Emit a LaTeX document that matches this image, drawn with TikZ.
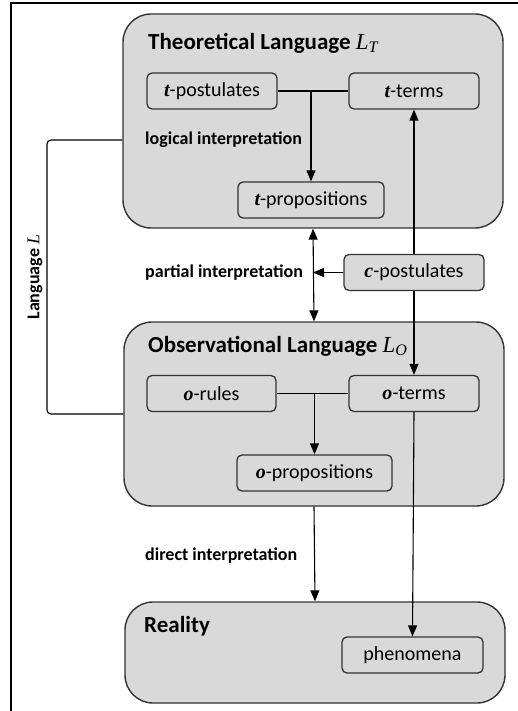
\documentclass[tikz,border=0pt]{standalone}
\usepackage{fontspec}
\setmainfont{Carlito}
\newfontfamily\lettfont{Liberation Serif}
\usetikzlibrary{arrows.meta,positioning}
\definecolor{boxgray}{HTML}{D9D9D9}
\tikzstyle{panel} = [draw=black!80,line width=1.4pt,rounded corners=28pt,fill=boxgray,minimum width=380pt,inner sep=0]
\tikzstyle{item} = [draw=black!80,line width=1.3pt,rounded corners=5pt,fill=boxgray,minimum height=36pt,inner sep=0,font=\fontsize{20}{22}\selectfont]
\tikzstyle{heading} = [anchor=west,inner sep=0,font=\bfseries\fontsize{23}{26}\selectfont]
\tikzstyle{note} = [anchor=west,inner sep=0,font=\bfseries\fontsize{18}{20}\selectfont]
\tikzstyle{link} = [-,line width=1.1pt]
\tikzstyle{arr} = [-{Triangle[length=11pt,width=9pt]},line width=1.1pt]
\tikzstyle{arrs} = [{Triangle[length=11pt,width=9pt]}-{Triangle[length=11pt,width=9pt]},line width=1.1pt]
\newcommand{\vlet}[1]{{\lettfont\bfseries\itshape #1}}
\newcommand{\vsym}[2]{{\lettfont\mdseries\itshape #1\textsubscript{#2}}}

\begin{document}
\begin{tikzpicture}[x=1pt,y=-1pt]
      \useasboundingbox (0,0) rectangle (518,711);
      \draw[line width=1.5pt] (11,711) -- (11,3) -- (518,3);
      \node[panel,minimum height=214pt] (th) at (313,121) {};
      \node[panel,minimum height=184pt] (obs) at (314,414) {};
      \node[panel,minimum height=101pt] (real) at (315,652.5) {};
      \node[heading] (tht) at (148,43) {Theoretical Language \vsym{L}{T}};
      \node[heading] (obt) at (148,346) {Observational Language \vsym{L}{O}};
      \node[heading] (ret) at (144,626) {Reality};
      \node[item,minimum width=130pt] (tpost) at (212,91) {\vlet{t}-postulates};
      \node[item,minimum width=130pt] (tterm) at (414,91) {\vlet{t}-terms};
      \node[item,minimum width=146pt] (tprop) at (311,200) {\vlet{t}-propositions};
      \node[item,minimum width=140pt] (cpost) at (414,272.5) {\vlet{c}-postulates};
      \node[item,minimum width=129pt] (orule) at (211.5,393.5) {\vlet{o}-rules};
      \node[item,minimum width=130pt] (oterm) at (414,393.5) {\vlet{o}-terms};
      \node[item,minimum width=155pt] (oprop) at (314.5,473) {\vlet{o}-propositions};
      \node[item,minimum width=141pt] (phen) at (412.5,655) {phenomena};
      \node[note] (logi) at (145,140) {logical interpretation};
      \node[note] (part) at (145,273) {partial interpretation};
      \node[note] (dir) at (145,556) {direct interpretation};
      \node[font=\bfseries\fontsize{18}{20}\selectfont,rotate=90] (lang) at (35,277) {Language \vsym{L}{}};
      \draw[link] (tpost) -- (tterm);
      \draw[arr] (tprop.north |- tpost) -- (tprop.north);
      \draw[link] (orule) -- (oterm);
      \draw[arr] (oprop.north |- orule) -- (oprop.north);
      \draw[arrs] (th.south) -- (obs.north);
      \draw[arr] (cpost.west) -- (cpost.west -| th.south);
      \draw[arr] (cpost.north) -- (tterm.south);
      \draw[arr] (cpost.south) -- (oterm.north);
      \draw[arr] (obs.south) -- (real.north);
      \draw[arr] (oterm.south) -- (phen.north);
      \draw[link,rounded corners=4pt] (logi -| th.west) -| (47,300) |- (obs.west);
\end{tikzpicture}
\end{document}
